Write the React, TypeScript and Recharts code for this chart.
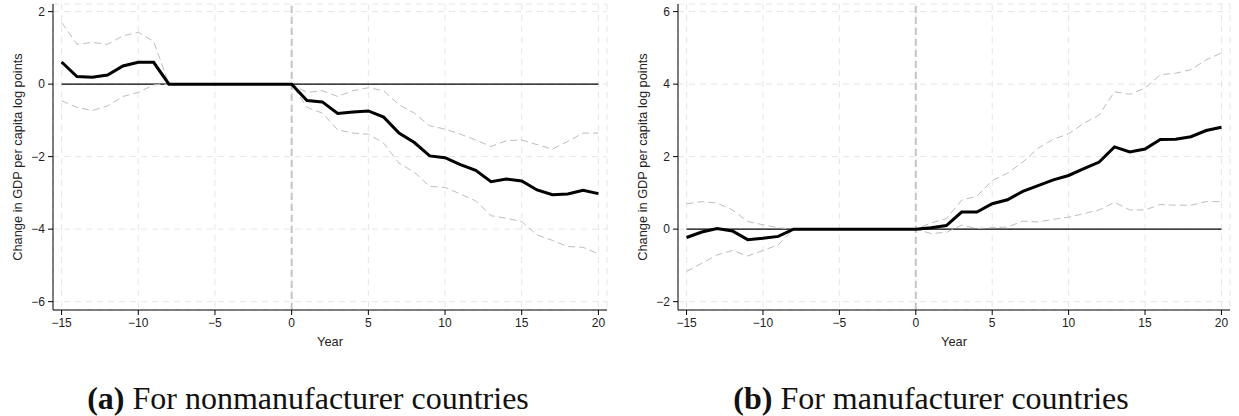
import { LineChart, Line, XAxis, YAxis, CartesianGrid, ReferenceLine } from 'recharts'

const years = [
  -15, -14, -13, -12, -11, -10, -9, -8, -7, -6, -5, -4, -3, -2, -1, 0, 1, 2, 3, 4, 5, 6, 7, 8, 9,
  10, 11, 12, 13, 14, 15, 16, 17, 18, 19, 20,
]

// (a) nonmanufacturer countries
const nonmfgEffect = [
  0.61, 0.21, 0.19, 0.25, 0.5, 0.6, 0.6, 0, 0, 0, 0, 0, 0, 0, 0, 0, -0.45, -0.49, -0.81, -0.77,
  -0.74, -0.91, -1.35, -1.61, -1.98, -2.03, -2.22, -2.38, -2.69, -2.62, -2.67, -2.92, -3.05, -3.03,
  -2.93, -3.02,
]
const nonmfgUpper = [
  1.7, 1.1, 1.15, 1.1, 1.33, 1.43, 1.18, 0, 0, 0, 0, 0, 0, 0, 0, 0, -0.23, -0.18, -0.34, -0.18,
  -0.1, -0.18, -0.57, -0.8, -1.15, -1.24, -1.38, -1.54, -1.72, -1.56, -1.54, -1.67, -1.79, -1.58,
  -1.35, -1.35,
]
const nonmfgLower = [
  -0.46, -0.64, -0.73, -0.6, -0.34, -0.23, -0.02, 0, 0, 0, 0, 0, 0, 0, 0, 0, -0.64, -0.8, -1.26,
  -1.35, -1.38, -1.63, -2.18, -2.43, -2.82, -2.85, -3.03, -3.22, -3.63, -3.7, -3.79, -4.16, -4.31,
  -4.48, -4.5, -4.68,
]

// (b) manufacturer countries
const mfgEffect = [
  -0.23, -0.08, 0.02, -0.05, -0.29, -0.25, -0.2, 0, 0, 0, 0, 0, 0, 0, 0, 0, 0.04, 0.1, 0.47, 0.47,
  0.7, 0.81, 1.04, 1.2, 1.36, 1.48, 1.67, 1.85, 2.27, 2.13, 2.21, 2.47, 2.48, 2.55, 2.72, 2.81,
]
const mfgUpper = [
  0.7, 0.76, 0.72, 0.53, 0.21, 0.12, 0.04, 0, 0, 0, 0, 0, 0, 0, 0, 0, 0.17, 0.29, 0.8, 0.91, 1.34,
  1.54, 1.85, 2.23, 2.48, 2.63, 2.92, 3.15, 3.79, 3.72, 3.89, 4.26, 4.3, 4.4, 4.67, 4.86,
]
const mfgLower = [
  -1.17, -0.94, -0.71, -0.59, -0.74, -0.59, -0.43, 0, 0, 0, 0, 0, 0, 0, 0, 0, -0.12, -0.09, 0.11,
  0.02, 0.04, 0.06, 0.22, 0.2, 0.27, 0.33, 0.43, 0.53, 0.74, 0.53, 0.53, 0.68, 0.66, 0.66, 0.76,
  0.76,
]

const xTicks = [-15, -10, -5, 0, 5, 10, 15, 20]
const nonmfgYTicks = [-6, -4, -2, 0, 2]
const mfgYTicks = [-2, 0, 2, 4, 6]

const yLabelText = 'Change in GDP per capita log points'
const xLabelText = 'Year'

const FONT = '"Liberation Sans", Arial, Helvetica, sans-serif'
const fmt = (v: number) => (v < 0 ? `\u2212${Math.abs(v)}` : `${v}`)

const YLabel = ({ viewBox }: any) => {
  const cx = viewBox.x + viewBox.width - 35.5
  const cy = viewBox.y + viewBox.height / 2
  return (
    <text
      x={cx}
      y={cy}
      transform={`rotate(-90 ${cx} ${cy})`}
      textAnchor="middle"
      dominantBaseline="central"
      fontSize={12.8}
      fontFamily={FONT}
      fill="#222"
    >
      {yLabelText}
    </text>
  )
}

const XLabel = ({ viewBox }: any) => (
  <text
    x={viewBox.x + viewBox.width / 2}
    y={viewBox.y + 31}
    textAnchor="middle"
    dominantBaseline="central"
    fontSize={12.8}
    fontFamily={FONT}
    fill="#222"
  >
    {xLabelText}
  </text>
)

interface PanelProps {
  effect: number[]
  upper: number[]
  lower: number[]
  yTicks: number[]
  yDomain: [number, number]
  width: number
  axisWidth: number
  rightMargin: number
}

function Panel({ effect, upper, lower, yTicks, yDomain, width, axisWidth, rightMargin }: PanelProps) {
  const data = years.map((year, i) => ({
    year,
    effect: effect[i],
    upper: upper[i],
    lower: lower[i],
  }))
  const tick = { fill: '#222', fontSize: 12, fontFamily: FONT }

  return (
    <LineChart
      width={width}
      height={360}
      data={data}
      margin={{ top: 4, right: rightMargin, left: 0, bottom: 0 }}
    >
      <CartesianGrid stroke="#e6e6e6" strokeDasharray="6 5" />
      <ReferenceLine x={0} stroke="#c4c4c4" strokeWidth={2} strokeDasharray="7 4" />
      <ReferenceLine
        segment={[
          { x: -15, y: 0 },
          { x: 20, y: 0 },
        ]}
        stroke="#000"
        strokeWidth={1.2}
      />
      <XAxis
        dataKey="year"
        type="number"
        domain={[-15.56, 20.56]}
        allowDataOverflow
        ticks={xTicks}
        tickFormatter={fmt}
        tick={tick}
        tickSize={5}
        tickMargin={3}
        height={50}
        stroke="#000"
        label={<XLabel />}
      />
      <YAxis
        type="number"
        domain={yDomain}
        allowDataOverflow
        ticks={yTicks}
        tickFormatter={fmt}
        tick={tick}
        tickSize={5}
        tickMargin={3}
        width={axisWidth}
        stroke="#000"
        label={<YLabel />}
      />
      <Line
        dataKey="upper"
        stroke="#bdbdbd"
        strokeWidth={1}
        strokeDasharray="7 4"
        dot={false}
        isAnimationActive={false}
      />
      <Line
        dataKey="lower"
        stroke="#bdbdbd"
        strokeWidth={1}
        strokeDasharray="7 4"
        dot={false}
        isAnimationActive={false}
      />
      <Line
        dataKey="effect"
        stroke="#000"
        strokeWidth={3}
        dot={false}
        isAnimationActive={false}
      />
    </LineChart>
  )
}

const captionStyle = {
  position: 'absolute' as const,
  top: 382,
  width: 600,
  textAlign: 'center' as const,
  fontFamily: '"Liberation Serif", "Times New Roman", serif',
  fontSize: 32,
  lineHeight: '32px',
  color: '#111',
  whiteSpace: 'nowrap' as const,
}

export default function App() {
  return (
    <div style={{ position: 'absolute', left: 0, top: 0, width: 1239, height: 416, background: '#fff' }}>
      <div style={{ position: 'absolute', left: 0, top: 0 }}>
        <Panel
          effect={nonmfgEffect}
          upper={nonmfgUpper}
          lower={nonmfgLower}
          yTicks={nonmfgYTicks}
          yDomain={[-6.23, 2.21]}
          width={620}
          axisWidth={53}
          rightMargin={13}
        />
      </div>
      <div style={{ position: 'absolute', left: 620, top: 0 }}>
        <Panel
          effect={mfgEffect}
          upper={mfgUpper}
          lower={mfgLower}
          yTicks={mfgYTicks}
          yDomain={[-2.23, 6.21]}
          width={619}
          axisWidth={58}
          rightMargin={9}
        />
      </div>
      <div style={{ ...captionStyle, left: 8 }}>
        <b>(a)</b> For nonmanufacturer countries
      </div>
      <div style={{ ...captionStyle, left: 631 }}>
        <b>(b)</b> For manufacturer countries
      </div>
    </div>
  )
}
